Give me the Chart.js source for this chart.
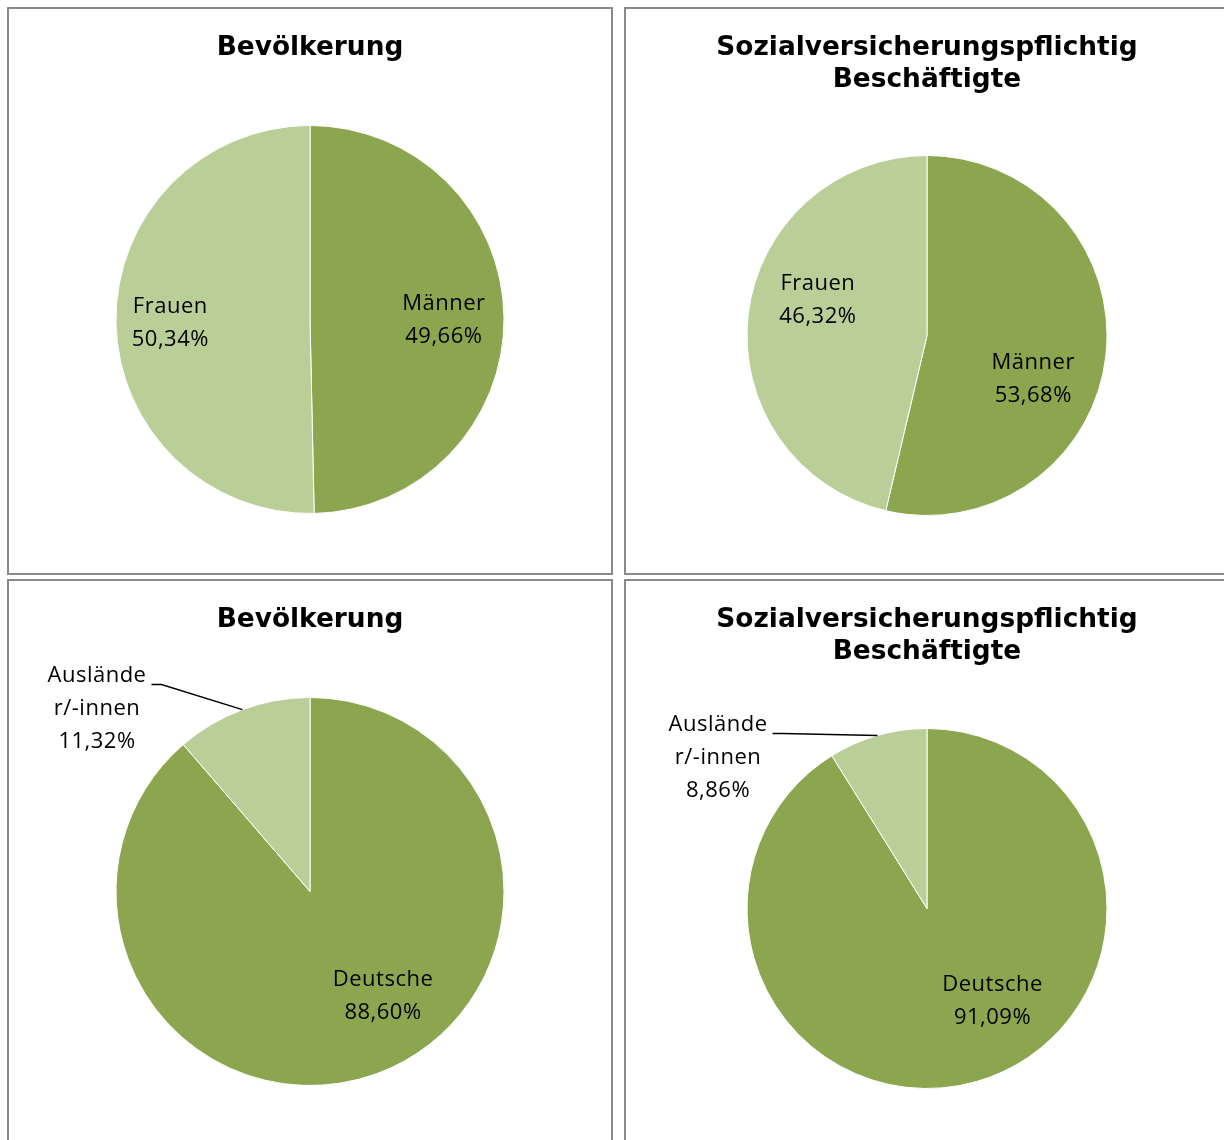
<!DOCTYPE html>
<html>
<head>
<meta charset="utf-8">
<script src="https://cdn.jsdelivr.net/npm/chart.js@4"></script>
<style>
  body { margin: 0; background: #fff; width: 1224px; height: 1140px; overflow: hidden; position: relative; }
  .box { position: absolute; border: 2px solid #8a8a8a; width: 602px; height: 564px; background: #fff; }
  .box canvas { display: block; }
</style>
</head>
<body>
<div class="box" style="left:7px;top:7px"><canvas id="popGender" width="602" height="564"></canvas></div>
<div class="box" style="left:624px;top:7px"><canvas id="empGender" width="602" height="564"></canvas></div>
<div class="box" style="left:7px;top:579px"><canvas id="popOrigin" width="602" height="564"></canvas></div>
<div class="box" style="left:624px;top:579px"><canvas id="empOrigin" width="602" height="564"></canvas></div>
<script>
// Anteile in Prozent
var genderLabels = ["Männer", "Frauen"];
var popGender = [49.66, 50.34];
var empGender = [53.68, 46.32];

var originLabels = ["Deutsche", ["Auslände", "r/-innen"]];
var popOrigin = [88.60, 11.32];
var empOrigin = [91.09, 8.86];

var titlePop = "Bevölkerung";
var titleEmp = ["Sozialversicherungspflichtig", "Beschäftigte"];

var darkGreen = "#8ba64f";
var lightGreen = "#bace98";

function fmt(v) {
  return v.toFixed(2).replace(".", ",") + "%";
}

// draws the data labels; inside labels sit on the slice, outside ones get a leader line
var sliceLabels = {
  id: "sliceLabels",
  afterDatasetsDraw: function(chart, args, opts) {
    var ctx = chart.ctx;
    var meta = chart.getDatasetMeta(0);
    var values = chart.data.datasets[0].data;
    var lh = 33;
    ctx.save();
    ctx.font = "22px 'Open Sans'";
    ctx.letterSpacing = "0.5px";
    ctx.fillStyle = "#000";
    ctx.textAlign = "center";
    ctx.textBaseline = "middle";
    meta.data.forEach(function(arc, i) {
      var p = arc.getProps(["x", "y", "startAngle", "endAngle", "outerRadius"], true);
      var mid = (p.startAngle + p.endAngle) / 2;
      var spot = opts.spots[i];
      var name = chart.data.labels[i];
      var lines = (Array.isArray(name) ? name : [name]).concat([fmt(values[i])]);
      var cx, cy;
      if (spot.outside) {
        cx = p.x + spot.dx * p.outerRadius;
        cy = p.y + spot.dy * p.outerRadius;
      } else {
        var a = mid + spot.turn * Math.PI / 180;
        cx = p.x + Math.cos(a) * spot.r * p.outerRadius;
        cy = p.y + Math.sin(a) * spot.r * p.outerRadius;
      }
      var top = cy - (lines.length - 1) * lh / 2 + 2;
      lines.forEach(function(t, k) {
        ctx.fillText(t, cx, top + k * lh);
      });
      if (spot.outside) {
        var w = ctx.measureText(lines[0]).width;
        var sx = cx + w / 2 + 5;
        var sy = top + 9;
        ctx.beginPath();
        ctx.strokeStyle = "#000";
        ctx.lineWidth = 1.5;
        ctx.moveTo(sx, sy);
        ctx.lineTo(sx + 10, sy);
        ctx.lineTo(p.x + Math.cos(mid) * p.outerRadius, p.y + Math.sin(mid) * p.outerRadius);
        ctx.stroke();
      }
    });
    ctx.restore();
  }
};

function makePie(id, labels, values, colors, title, padTitle, padBottom, spots) {
  return new Chart(document.getElementById(id).getContext("2d"), {
    type: "pie",
    data: {
      labels: labels,
      datasets: [
        {
          data: values,
          backgroundColor: colors,
          borderColor: "#fff",
          borderWidth: 1,
          hoverOffset: 0
        }
      ]
    },
    options: {
      responsive: false,
      animation: false,
      events: [],
      layout: { padding: { bottom: padBottom } },
      plugins: {
        legend: { display: false },
        tooltip: { enabled: false },
        title: {
          display: true,
          text: title,
          color: "#000",
          font: { family: "'DejaVu Sans'", weight: "bold", size: 26.4, lineHeight: "32px" },
          padding: { top: 23, bottom: padTitle }
        },
        sliceLabels: { spots: spots }
      }
    },
    plugins: [sliceLabels]
  });
}

makePie("popGender", genderLabels, popGender, [darkGreen, lightGreen], titlePop, 61, 59,
  [{ r: 0.69, turn: 0 }, { r: 0.72, turn: 0 }]);

makePie("empGender", genderLabels, empGender, [darkGreen, lightGreen], titleEmp, 59, 57,
  [{ r: 0.635, turn: 15 }, { r: 0.64, turn: 12 }]);

makePie("popOrigin", originLabels, popOrigin, [darkGreen, lightGreen], titlePop, 61, 59,
  [{ r: 0.65, turn: -15 }, { outside: true, dx: -1.098, dy: -0.954 }]);

makePie("empOrigin", originLabels, empOrigin, [darkGreen, lightGreen], titleEmp, 60, 56,
  [{ r: 0.62, turn: -20 }, { outside: true, dx: -1.161, dy: -0.85 }]);
</script>
</body>
</html>
